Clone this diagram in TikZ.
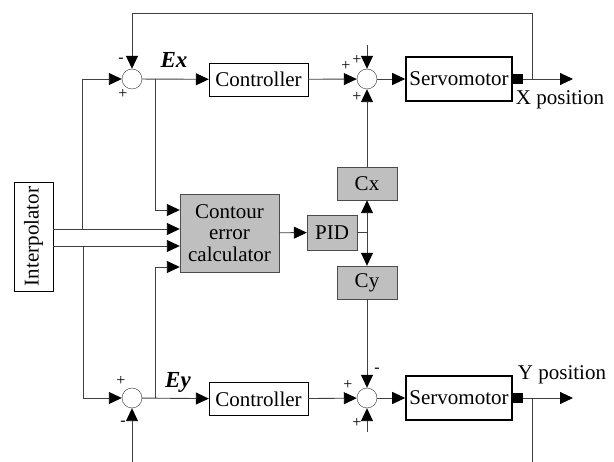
\documentclass[tikz,border=0pt]{standalone}
\usepackage{fontspec}
\setmainfont{Liberation Serif}
\usetikzlibrary{arrows.meta,calc,positioning}

\newcommand{\blockfont}{\fontsize{21}{21.5}\selectfont}
\newcommand{\errfont}{\fontsize{23}{23}\selectfont\bfseries\itshape}
\newcommand{\signfont}{\fontsize{16}{16}\selectfont}

\begin{document}
\begin{tikzpicture}[
  x=1pt, y=-1pt,
  box/.style={draw, fill=white, minimum width=99pt, minimum height=33pt,
              inner sep=0pt, font=\blockfont, align=center},
  gbox/.style={box, fill=black!25, draw=black!70},
  servo/.style={box, line width=1.6pt, minimum width=106pt, minimum height=44pt},
  sum/.style={draw=black!80, circle, fill=white, minimum size=20pt, inner sep=0pt},
  plug/.style={fill=black, minimum width=11pt, minimum height=10pt, inner sep=0pt},
  sgn/.style={font=\signfont, inner sep=0pt},
  lbl/.style={font=\blockfont, inner sep=0pt},
  err/.style={font=\errfont, inner sep=0pt},
  arr/.style={-{Triangle[length=13pt, width=12pt, color=black]}, line width=0.9pt, draw=black!75},
  wire/.style={line width=0.9pt, draw=black!75},
]
\useasboundingbox (0,0) rectangle (614,462);

%% ═══ X AXIS ═══════════════════════════════════════════════════════════
\node[sum]            (sumx)  at (132, 79)   {};
\node[box]            (ctrlx) at (258.5, 79.5) {Controller};
\node[sum]            (addx)  at (367, 79)   {};
\node[servo]          (servox) at (459, 79)  {Servomotor};
\node[plug]           (plugx) at (517.5, 79) {};
\node[err]            (ex)    at (174, 60)   {Ex};
\node[lbl]            (posx)  at (560, 100)  {X position};

%% ═══ Y AXIS ═══════════════════════════════════════════════════════════
\node[sum]            (sumy)  at (132, 398)  {};
\node[box]            (ctrly) at (258.5, 399) {Controller};
\node[sum]            (addy)  at (367, 398)  {};
\node[servo]          (servoy) at (459, 398) {Servomotor};
\node[plug]           (plugy) at (517.5, 398) {};
\node[err]            (ey)    at (178, 382)  {Ey};
\node[lbl]            (posy)  at (562, 375)  {Y position};

%% ═══ CROSS COUPLING ═══════════════════════════════════════════════════
\node[draw, fill=white, minimum width=39pt, minimum height=109pt, inner sep=0pt,
      font=\blockfont] (interp) at (33.5, 236.5) {\rotatebox{90}{Interpolator}};
\node[gbox, minimum height=78pt] (cec) at (229.5, 233)
    {Contour\\error\\calculator};
\node[gbox, minimum width=50pt, minimum height=35pt] (pid) at (332, 232.5) {PID};
\node[gbox, minimum width=60pt] (cx) at (367, 183.5) {Cx};
\node[gbox, minimum width=60pt] (cy) at (367, 282.5) {Cy};

% signs at the summing points
\node[sgn] at (121, 60)  {-};
\node[sgn] at (123, 94)  {+};
\node[sgn] at (346, 66)  {+};
\node[sgn] at (357, 60)  {+};
\node[sgn] at (357, 97)  {+};
\node[sgn] at (121, 381) {+};
\node[sgn] at (123, 423) {-};
\node[sgn] at (377, 370) {-};
\node[sgn] at (348, 385) {+};
\node[sgn] at (357, 423) {+};

% helper points
\coordinate (fbx)  at (532, 79);
\coordinate (topx) at (132, 13);
\coordinate (fby)  at (532, 398);
\coordinate (boty) at (532, 462);
\coordinate (iny)  at (132, 462);
\coordinate (incx) at (367, 45);
\coordinate (incy) at (367, 432);
\coordinate (outx) at (573, 79);
\coordinate (outy) at (573, 398);
\coordinate (i1)   at ($(interp.east)+(0,-7.5)$);
\coordinate (i2)   at ($(interp.east)+(0,9.5)$);
\coordinate (jx)   at (82, 229);
\coordinate (jy)   at (83, 246);
\coordinate (bx)   at (155, 79);
\coordinate (by)   at (155, 398);
\coordinate (split) at (367, 232.5);

% main forward arrows
\draw[arr]  (sumx)  -- (ctrlx);
\draw[arr]  (ctrlx) -- (addx);
\draw[arr]  (addx)  -- (servox);
\draw[arr]  (plugx) -- (outx);
\draw[arr]  (sumy)  -- (ctrly);
\draw[arr]  (ctrly) -- (addy);
\draw[arr]  (addy)  -- (servoy);
\draw[arr]  (plugy) -- (outy);

% feedback
\draw[arr]  (fbx) |- (topx) -- (sumx);
\draw[wire] (fby) -- (boty);
\draw[arr]  (iny) -- (sumy);
\draw[arr]  (incx) -- (addx);
\draw[arr]  (incy) -- (addy);

% interpolator outputs
\draw[arr]  (i1) -- (i1 -| cec.west);
\draw[arr]  (i2) -- (i2 -| cec.west);
\draw[arr]  (jx) |- (sumx);
\draw[arr]  (jy) |- (sumy);

% errors into the calculator
\draw[arr]  (bx) |- ($(cec.west)+(0,-23)$);
\draw[arr]  (by) |- ($(cec.west)+(0,34)$);

% correction path
\draw[arr]  (cec) -- (pid);
\draw[wire] (pid) -- (split);
\draw[arr]  (split) -- (cx);
\draw[arr]  (split) -- (cy);
\draw[arr]  (cx) -- (addx);
\draw[arr]  (cy) -- (addy);

\end{tikzpicture}
\end{document}
